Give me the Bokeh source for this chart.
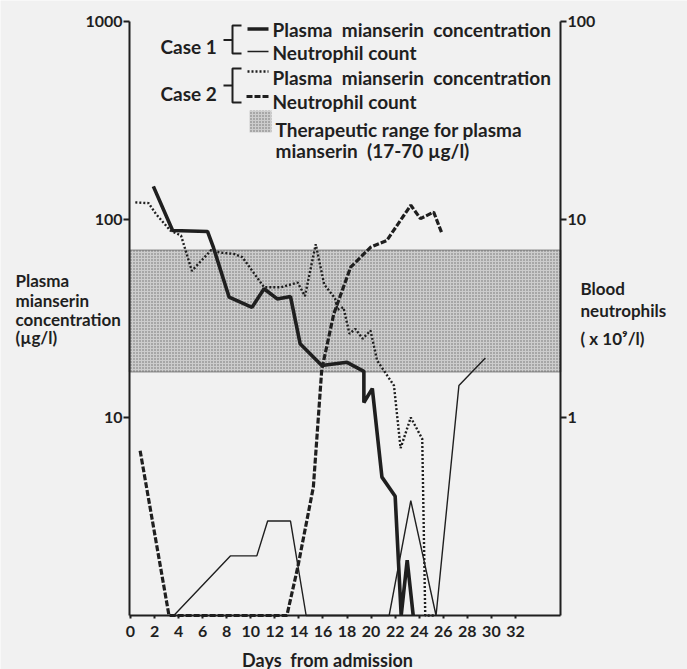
from bokeh.plotting import figure
from bokeh.models import (Range1d, LogScale, LogAxis, LinearAxis, FixedTicker,
                          BasicTickFormatter, BoxAnnotation, Label, ColumnDataSource)
from bokeh.embed import file_html
from bokeh.resources import INLINE

# ---------------- data ----------------
x_ticks = list(range(0, 33, 2))
left_ticks = [10, 100, 1000]          # plasma mianserin, ug/l
right_ticks = [1, 10, 100]            # neutrophils, x10^9/l
ther_low, ther_high = 17, 70          # therapeutic range ug/l

c1_plasma_day = [1.9, 3.5, 6.4, 6.9, 8.2, 10.1, 11.1, 12.2, 13.3, 14.1, 15.9,
                 18.0, 19.4, 19.4, 20.1, 20.9, 22.0, 22.5, 23.0, 23.5]
c1_plasma = [147, 88, 87, 72, 40.5, 36, 44.7, 39.7, 40.8, 23.6, 18.3,
             19.0, 17.1, 11.9, 14.0, 5.0, 4.0, 1.0, 1.9, 1.0]

c1_neut_day = [3.6, 8.3, 10.5, 11.4, 13.3, 14.6, 21.5, 23.3, 25.4, 27.3, 29.5]
c1_neut = [0.1, 0.2, 0.2, 0.3, 0.3, 0.1, 0.1, 0.38, 0.1, 1.45, 2.0]

c2_plasma_day = [0.4, 1.5, 2.1, 3.3, 4.2, 5.1, 6.7, 7.5, 8.6, 9.3, 11.1, 12.5,
                 13.9, 14.5, 15.4, 16.1, 17.0, 17.2, 17.7, 18.2, 18.7, 19.3,
                 19.95, 20.5, 21.9, 22.45, 23.3, 24.25, 24.5, 25.35]
c2_plasma = [122, 121, 107, 88, 83, 55, 70, 68, 67, 64.5, 45.5, 45.5,
             48, 41, 75, 47, 40, 35, 36, 26.5, 28, 25,
             27.5, 19.4, 14.5, 7.0, 10.0, 7.8, 1.0, 1.0]

c2_neut_day = [0.8, 3.2, 13.0, 13.9, 15.2, 15.9, 16.9, 18.3, 19.95, 21.3,
               23.3, 24.1, 25.2, 25.9]
c2_neut = [0.68, 0.1, 0.1, 0.175, 0.445, 1.75, 3.34, 5.74, 7.24, 7.83,
           11.8, 10.1, 10.9, 8.47]

# ---------------- layout helpers (canvas pixel -> data, for annotations) ----------------
def dx(px):
    return (px - 130) / 12.03

def vy(py):
    return 10 ** ((615 - py) / 198)

INK = "#1f1f1f"
BG = "#f1f1f1"
FONT = "Lato"
NB = "\u00a0"
W, H = 687, 669

# frame = whole canvas; axes are pinned with fixed_location
p = figure(width=W, height=H, output_backend="svg", toolbar_location=None,
           title=None, x_range=Range1d(dx(0), dx(W)), y_range=Range1d(vy(H), vy(0)),
           y_axis_type="log", x_axis_location=None, y_axis_location=None,
           min_border_left=0, min_border_right=0, min_border_top=0,
           min_border_bottom=0, background_fill_color=BG, border_fill_color=BG,
           outline_line_color=None)
p.grid.visible = False
# neutrophil axis = plasma axis / 10 (1000 ug/l <-> 100 x10^9/l)
p.extra_y_ranges = {"neut": Range1d(vy(H) / 10, vy(0) / 10)}
p.extra_y_scales = {"neut": LogScale()}

def style_axis(ax, tick_out):
    ax.axis_line_width = 2
    ax.axis_line_color = INK
    ax.major_tick_line_width = 2
    ax.major_tick_line_color = INK
    ax.major_tick_out = tick_out
    ax.major_tick_in = 0
    ax.minor_tick_out = 0
    ax.minor_tick_in = 0
    ax.major_label_text_font = FONT
    ax.major_label_text_font_size = "16px"
    ax.major_label_text_font_style = "bold"
    ax.major_label_text_color = INK

x_lo, x_hi = dx(129), dx(560)

ax_left = LogAxis(ticker=FixedTicker(ticks=left_ticks), formatter=BasicTickFormatter(),
                  fixed_location=x_lo, bounds=(1, 1000))
style_axis(ax_left, 6)
ax_left.major_label_standoff = 1
p.add_layout(ax_left, "left")

ax_right = LogAxis(y_range_name="neut", ticker=FixedTicker(ticks=right_ticks),
                   formatter=BasicTickFormatter(), fixed_location=x_hi, bounds=(0.1, 100))
style_axis(ax_right, 6)
ax_right.major_label_standoff = 1
p.add_layout(ax_right, "right")

ax_bottom = LinearAxis(ticker=FixedTicker(ticks=x_ticks), fixed_location=1,
                       bounds=(x_lo, x_hi))
style_axis(ax_bottom, 3)
ax_bottom.major_label_standoff = 7
p.add_layout(ax_bottom, "below")

# therapeutic range band
band_kw = dict(fill_color="#cdcdcd", fill_alpha=1.0, hatch_pattern="dot",
               hatch_color="#505050", hatch_scale=3, hatch_alpha=0.75)
p.add_layout(BoxAnnotation(left=x_lo, right=x_hi, bottom=ther_low, top=ther_high,
                           line_color=INK, line_width=1.8, level="underlay", **band_kw))

# data lines
src_c1p = ColumnDataSource(dict(x=c1_plasma_day, y=c1_plasma))
src_c1n = ColumnDataSource(dict(x=c1_neut_day, y=c1_neut))
src_c2p = ColumnDataSource(dict(x=c2_plasma_day, y=c2_plasma))
src_c2n = ColumnDataSource(dict(x=c2_neut_day, y=c2_neut))

DOT = dict(line_color=INK, line_width=2.4, line_dash="2 2")
DASH = dict(line_color=INK, line_width=3.2, line_dash="6 2")
THIN = dict(line_color=INK, line_width=1.4)
THICK = dict(line_color=INK, line_width=3.6)

p.line("x", "y", source=src_c2p, **DOT)
p.line("x", "y", source=src_c2n, y_range_name="neut", **DASH)
p.line("x", "y", source=src_c1n, y_range_name="neut", **THIN)
p.line("x", "y", source=src_c1p, **THICK)

# ---------------- legend (hand drawn, like the reference) ----------------
def txt(x, y, s, size="19px", align="left"):
    p.add_layout(Label(x=x, y=y, text=s, text_font=FONT, text_font_size=size,
                       text_font_style="bold", text_color=INK, text_align=align,
                       text_baseline="alphabetic"))

txt(dx(160), vy(46), "Case 1")
txt(dx(160), vy(93), "Case 2")
for top, mid, bot in [(25, 39.5, 53), (68, 85, 102)]:
    p.line([dx(241), dx(232), dx(232), dx(241)], [vy(top), vy(top), vy(bot), vy(bot)],
           line_color=INK, line_width=2)
    p.line([dx(223), dx(232)], [vy(mid), vy(mid)], line_color=INK, line_width=2)

p.line([dx(247), dx(268)], [vy(28.5)] * 2, **THICK)
p.line([dx(247), dx(268)], [vy(51)] * 2, **THIN)
p.line([dx(247), dx(268)], [vy(71)] * 2, **DOT)
p.line([dx(246), dx(270)], [vy(96)] * 2, **DASH)
p.add_layout(BoxAnnotation(left=dx(249), right=dx(271), top=vy(110), bottom=vy(132),
                           line_color=None, **band_kw))

two = NB + " "
txt(dx(272), vy(28.5), "Plasma" + two + "mianserin" + two + "concentration")
txt(dx(272), vy(51.5), "Neutrophil count")
txt(dx(272), vy(76.5), "Plasma" + two + "mianserin" + two + "concentration")
txt(dx(272), vy(100.5), "Neutrophil count")
txt(dx(275), vy(128.5), "Therapeutic range for plasma")
txt(dx(275), vy(150), "mianserin" + two + "(17-70 µg/l)")

# axis titles
for s, yb in [("Plasma", 280), ("mianserin", 299.5), ("concentration", 318.5), ("(µg/l)", 337)]:
    txt(dx(15), vy(yb), s, size="17px")
for s, yb in [("Blood", 288), ("neutrophils", 310), ("( x 10⁹/l)", 338)]:
    txt(dx(580), vy(yb), s, size="17px")
txt(dx(327), vy(659), "Days" + two + "from admission", size="18px", align="center")

open("out.html", "w").write(file_html(p, INLINE))
